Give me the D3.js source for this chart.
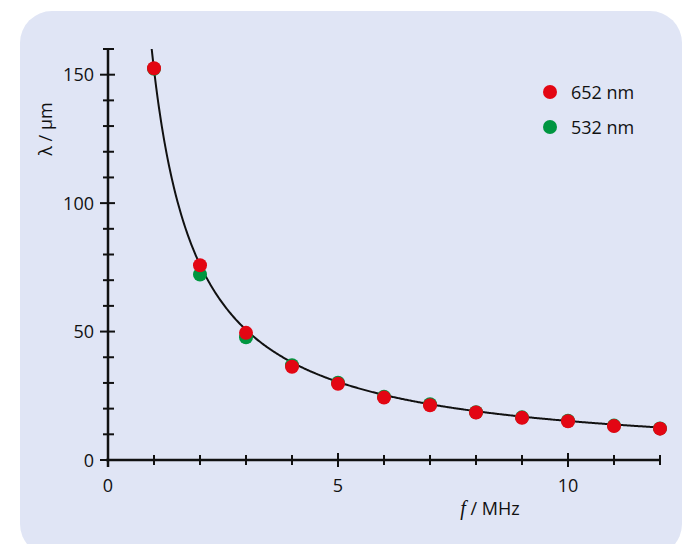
<!DOCTYPE html>
<html>
<head>
<meta charset="utf-8">
<script src="https://cdn.jsdelivr.net/npm/d3@7"></script>
<style>
  body { margin: 0; background: #fff; }
  svg { display: block; font-family: "Open Sans", "DejaVu Sans", sans-serif; }
</style>
</head>
<body>
<svg id="chart" width="694" height="544"></svg>
<script>
// frequency in MHz
const freq = [1, 2, 3, 4, 5, 6, 7, 8, 9, 10, 11, 12];
// wavelength in µm
const red652 = [152.5, 75.8, 49.5, 36.3, 29.7, 24.3, 21.3, 18.5, 16.4, 15.1, 13.2, 12.2];
const green532 = [152.3, 72.2, 47.8, 36.9, 30.1, 24.6, 21.7, 18.6, 16.6, 15.3, 13.4, 12.3];
const fitC = 152; // λ·f of the fitted line
const legendLabels = ["652 nm", "532 nm"];
const colors = ["#e30613", "#009640"];

const svg = d3.select("#chart");

// panel
svg.append("rect")
    .attr("x", 20).attr("y", 11)
    .attr("width", 662).attr("height", 545)
    .attr("rx", 32).attr("ry", 32)
    .attr("fill", "#e0e5f5");

const x = d3.scaleLinear().domain([0, 12]).range([108, 660]);
const y = d3.scaleLinear().domain([0, 160]).range([460, 49]);

const axisColor = "#111";
const fs = 18;

// x axis
const gx = svg.append("g");
gx.append("line")
    .attr("x1", x(0) - 2).attr("x2", x(12) + 1)
    .attr("y1", y(0)).attr("y2", y(0))
    .attr("stroke", axisColor).attr("stroke-width", 2.5);
gx.selectAll("line.t").data(d3.range(1, 13)).join("line")
    .attr("class", "t")
    .attr("x1", d => x(d)).attr("x2", d => x(d))
    .attr("y1", d => d % 5 === 0 ? y(0) - 7 : y(0) - 5)
    .attr("y2", d => d % 5 === 0 ? y(0) + 7 : y(0) + 5)
    .attr("stroke", axisColor).attr("stroke-width", 2);
gx.selectAll("text").data([0, 5, 10]).join("text")
    .attr("x", d => x(d)).attr("y", 492)
    .attr("text-anchor", "middle")
    .attr("font-size", fs).attr("fill", "#111")
    .text(d => d);

// y axis
const gy = svg.append("g");
gy.append("line")
    .attr("x1", x(0)).attr("x2", x(0))
    .attr("y1", y(0) + 7).attr("y2", y(160))
    .attr("stroke", axisColor).attr("stroke-width", 2.5);
gy.selectAll("line.t").data(d3.range(0, 161, 10)).join("line")
    .attr("class", "t")
    .attr("x1", d => d % 50 === 0 ? x(0) - 8 : x(0) - 5)
    .attr("x2", d => d % 50 === 0 ? x(0) + 7 : x(0) + 6)
    .attr("y1", d => y(d)).attr("y2", d => y(d))
    .attr("stroke", axisColor).attr("stroke-width", 2);
gy.selectAll("text").data([0, 50, 100, 150]).join("text")
    .attr("x", 94).attr("y", d => y(d) + 6.5)
    .attr("text-anchor", "end")
    .attr("font-size", fs).attr("fill", "#111")
    .text(d => d);

// axis titles
svg.append("text")
    .attr("transform", "translate(52,129) rotate(-90)")
    .attr("text-anchor", "middle")
    .attr("font-size", fs).attr("fill", "#111")
    .text("λ / µm");
const xt = svg.append("text")
    .attr("x", 490).attr("y", 515)
    .attr("text-anchor", "middle")
    .attr("font-size", fs).attr("fill", "#111");
xt.append("tspan").attr("font-style", "italic")
    .attr("font-family", "'Liberation Serif', serif").attr("font-size", 20).text("f");
xt.append("tspan").text(" / MHz");

// fitted line λ = C / f
const fStart = fitC / 160;
const fitPts = d3.range(fStart, 12.0001, 0.02).map(f => [f, fitC / f]);
svg.append("path")
    .datum(fitPts)
    .attr("fill", "none")
    .attr("stroke", "#111")
    .attr("stroke-width", 2)
    .attr("d", d3.line().x(d => x(d[0])).y(d => y(d[1])));

// points: green under red
[green532, red652].forEach((vals, k) => {
    svg.append("g").selectAll("circle")
        .data(freq.map((f, i) => [f, vals[i]]))
        .join("circle")
        .attr("cx", d => x(d[0])).attr("cy", d => y(d[1]))
        .attr("r", 7)
        .attr("fill", colors[1 - k]);
});

// legend
const lg = svg.append("g");
legendLabels.forEach((lab, i) => {
    lg.append("circle")
        .attr("cx", 550).attr("cy", 92 + i * 35)
        .attr("r", 7).attr("fill", colors[i]);
    lg.append("text")
        .attr("x", 571).attr("y", 98.5 + i * 35)
        .attr("font-size", fs).attr("fill", "#111")
        .text(lab);
});
</script>
</body>
</html>
